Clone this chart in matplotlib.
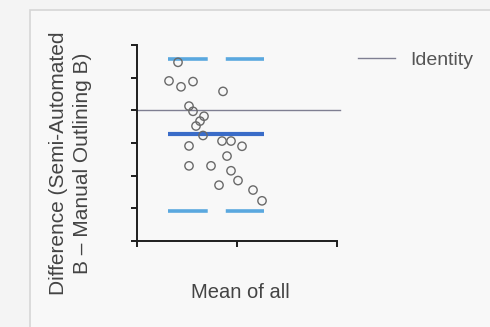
import matplotlib
matplotlib.use("Agg")
import matplotlib.pyplot as plt
from matplotlib.patches import Rectangle

# Bland-Altman style data
mean_vals = [0.41, 0.32, 0.44, 0.56, 0.86, 0.52, 0.56, 0.67, 0.63, 0.59, 0.66, 0.52,
             0.85, 0.94, 1.05, 0.90, 0.52, 0.74, 0.94, 1.01, 0.82, 1.16, 1.25]
diff_vals = [5.47, 4.90, 4.72, 4.88, 4.58, 4.13, 3.97, 3.82, 3.67, 3.52, 3.23, 2.91,
             3.06, 3.06, 2.90, 2.60, 2.30, 2.30, 2.15, 1.85, 1.71, 1.56, 1.23]
bias = 3.28
upper_loa = 5.57
lower_loa = 0.92
identity = 4.0
x_range = [0.31, 1.27]
x_ticks = [0, 1, 2]
y_ticks = [0, 1, 2, 3, 4, 5, 6]

plt.rcParams["font.family"] = ["Liberation Sans", "DejaVu Sans"]

fig = plt.figure(figsize=(4.9, 3.27), dpi=100, facecolor="#f4f4f4")
# light panel frame behind the chart
fig.add_artist(Rectangle((30 / 490, -0.1), 1.0, 1.1 - 10 / 327,
                         transform=fig.transFigure, facecolor="#f8f8f8",
                         edgecolor="#d6d6d6", linewidth=1.2, zorder=0))

ax = fig.add_axes([0.2796, 0.263, 0.4082, 0.5994])
ax.patch.set_alpha(0)

ax.axhline(identity, xmin=0, xmax=1.015, color="#7f7f92", linewidth=1.0,
           clip_on=False, label="Identity", zorder=1)
ax.plot(x_range, [upper_loa, upper_loa], color="#5aa8df", linewidth=2.6,
        dashes=(11, 5), dash_capstyle="butt", zorder=2)
ax.plot(x_range, [lower_loa, lower_loa], color="#5aa8df", linewidth=2.6,
        dashes=(11, 5), dash_capstyle="butt", zorder=2)
ax.plot(x_range, [bias, bias], color="#3a6cc8", linewidth=3.0,
        solid_capstyle="butt", zorder=2)
ax.scatter(mean_vals, diff_vals, s=36, facecolors="none", edgecolors="#6a6a6a",
           linewidths=1.0, zorder=3)

ax.set_xlim(0, 2)
ax.set_ylim(0, 6)
ax.set_xticks(x_ticks)
ax.set_yticks(y_ticks)
ax.set_xticklabels([])
ax.set_yticklabels([])
ax.tick_params(direction="out", length=4, width=1.4, color="#1e1e1e")
for side in ["top", "right"]:
    ax.spines[side].set_visible(False)
for side in ["left", "bottom"]:
    ax.spines[side].set_linewidth(1.4)
    ax.spines[side].set_color("#1e1e1e")

fig.text(0.144, 0.50, "Difference (Semi-Automated\nB \u2013 Manual Outlining B)",
         rotation=90, ha="center", va="center", multialignment="center",
         fontsize=15, color="#444444", linespacing=1.3)
fig.text(0.491, 0.107, "Mean of all", ha="center", va="center",
         fontsize=14.5, color="#444444")

fig.legend(loc="center left", bbox_to_anchor=(0.695, 0.815), frameon=False,
           fontsize=14, handlelength=1.9, handletextpad=0.8, labelcolor="#555555")

fig.savefig("out.png", dpi=100, facecolor=fig.get_facecolor())
